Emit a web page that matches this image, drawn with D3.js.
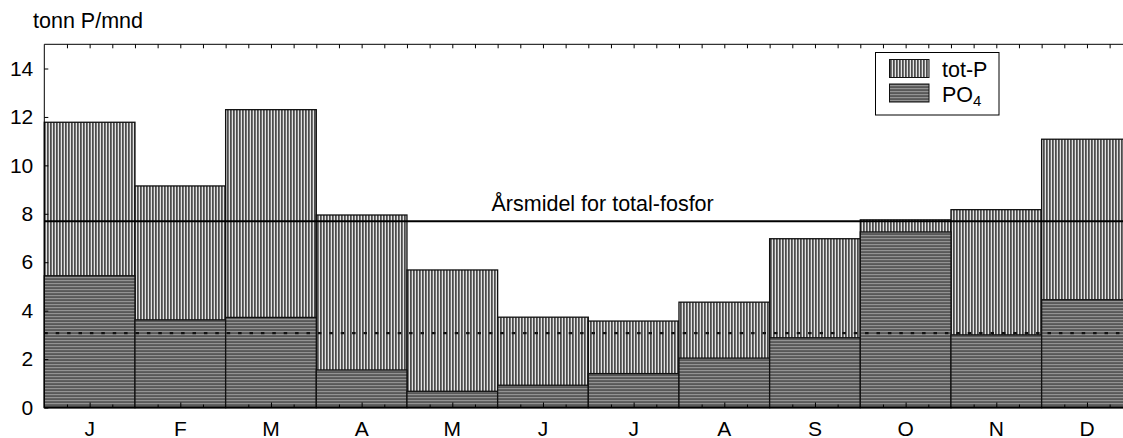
<!DOCTYPE html>
<html>
<head>
<meta charset="utf-8">
<script src="https://cdn.jsdelivr.net/npm/d3@7"></script>
<style>
  html, body { margin: 0; padding: 0; overflow: hidden; background: #fff; }
  svg { display: block; font-family: "Liberation Sans", Arial, sans-serif; }
</style>
</head>
<body>
<svg id="chart" width="1123" height="438"></svg>
<script>
// ---- data ----
const months = ["J", "F", "M", "A", "M", "J", "J", "A", "S", "O", "N", "D"];
const totP = [11.78, 9.15, 12.30, 7.95, 5.68, 3.73, 3.57, 4.35, 6.97, 7.75, 8.17, 11.08];
const po4  = [5.44, 3.62, 3.72, 1.55, 0.67, 0.92, 1.40, 2.04, 2.88, 7.25, 3.00, 4.45];
const meanTotP = 7.69;
const meanPO4 = 3.07;
const yTicks = [0, 2, 4, 6, 8, 10, 12, 14];
const yLabel = "tonn P/mnd";
const meanLabel = "Årsmidel for total-fosfor";

// ---- layout ----
const L = 44.3, R = 1132.3, T = 44.3, B = 407.5;
const svg = d3.select("#chart");

const defs = svg.append("defs");
// vertical hatch for tot-P
const pv = defs.append("pattern").attr("id", "vert").attr("patternUnits", "userSpaceOnUse")
  .attr("width", 3).attr("height", 10).attr("x", L);
pv.append("rect").attr("width", 3).attr("height", 10).attr("fill", "#fff");
pv.append("rect").attr("x", 0).attr("width", 1.35).attr("height", 10).attr("fill", "#000");
// horizontal hatch for PO4
const ph = defs.append("pattern").attr("id", "horiz").attr("patternUnits", "userSpaceOnUse")
  .attr("width", 10).attr("height", 3).attr("y", B);
ph.append("rect").attr("width", 10).attr("height", 3).attr("fill", "#9c9c9c");
ph.append("rect").attr("y", 0).attr("width", 10).attr("height", 1.15).attr("fill", "#262626");

const idx = d3.range(months.length);
const x = d3.scaleBand().domain(idx).range([L, R]).padding(0);
const xc = d3.scaleLinear().domain([0, months.length]).range([L, R]);
const y = d3.scaleLinear().domain([0, 15]).range([B, T]);

// bars: tot-P
svg.append("g").selectAll("rect").data(idx).join("rect")
  .attr("x", i => x(i)).attr("width", x.bandwidth())
  .attr("y", i => y(totP[i])).attr("height", i => y(0) - y(totP[i]))
  .attr("fill", "url(#vert)").attr("stroke", "#111").attr("stroke-width", 1.3);
// bars: PO4
svg.append("g").selectAll("rect").data(idx).join("rect")
  .attr("x", i => x(i)).attr("width", x.bandwidth())
  .attr("y", i => y(po4[i])).attr("height", i => y(0) - y(po4[i]))
  .attr("fill", "url(#horiz)").attr("stroke", "#111").attr("stroke-width", 1.3);

// mean lines
svg.append("line").attr("x1", L).attr("x2", R).attr("y1", y(meanTotP)).attr("y2", y(meanTotP))
  .attr("stroke", "#000").attr("stroke-width", 2);
svg.append("line").attr("x1", L).attr("x2", R).attr("y1", y(meanPO4)).attr("y2", y(meanPO4))
  .attr("stroke", "#111").attr("stroke-width", 2.2).attr("stroke-dasharray", "3.5 7.9");

svg.append("text").attr("x", 491.5).attr("y", y(meanTotP) - 10)
  .attr("font-size", 21.5).attr("fill", "#000").text(meanLabel);

// frame
svg.append("line").attr("x1", L).attr("x2", R).attr("y1", T).attr("y2", T).attr("stroke", "#000").attr("stroke-width", 1);
svg.append("line").attr("x1", L).attr("x2", L).attr("y1", T).attr("y2", B).attr("stroke", "#000").attr("stroke-width", 1);
svg.append("line").attr("x1", L).attr("x2", R).attr("y1", B).attr("y2", B).attr("stroke", "#000").attr("stroke-width", 2);

// y axis (ticks inward)
const yAxis = d3.axisLeft(y).tickValues(yTicks).tickSize(-4).tickPadding(11).tickFormat(d3.format("d"));
const gy = svg.append("g").attr("transform", `translate(${L},0)`).call(yAxis);
gy.select(".domain").remove();
gy.selectAll("text").attr("font-size", 21).attr("fill", "#000").attr("font-family", "Liberation Sans, Arial, sans-serif");
gy.selectAll("line").attr("stroke", "#000");

// bottom minor/major ticks (inward)
const qTicks = d3.range(0, months.length * 4 + 1).map(k => k / 4).filter(v => v % 1 !== 0);
const gb = svg.append("g").attr("transform", `translate(0,${B})`)
  .call(d3.axisBottom(xc).tickValues(qTicks).tickSize(-3).tickFormat(""));
gb.select(".domain").remove();
gb.selectAll(".tick line").attr("stroke", "#000")
  .attr("y2", d => (d % 1 === 0.5) ? -5 : -3);

// top ticks (inward)
const allQ = d3.range(1, months.length * 4).map(k => k / 4);
const gt = svg.append("g").attr("transform", `translate(0,${T})`)
  .call(d3.axisTop(xc).tickValues(allQ).tickSize(-4).tickFormat(""));
gt.select(".domain").remove();
gt.selectAll(".tick line").attr("stroke", "#000");

// month labels
svg.append("g").selectAll("text").data(idx).join("text")
  .attr("x", i => x(i) + x.bandwidth() / 2).attr("y", 436)
  .attr("text-anchor", "middle").attr("font-size", 21).attr("fill", "#000")
  .text(i => months[i]);

// y axis title
svg.append("text").attr("x", 33).attr("y", 28).attr("font-size", 21.5).attr("fill", "#000").text(yLabel);

// legend
const lg = svg.append("g");
lg.append("rect").attr("x", 875.5).attr("y", 52.5).attr("width", 123.5).attr("height", 62.5)
  .attr("fill", "#fff").attr("stroke", "#000").attr("stroke-width", 1);
lg.append("rect").attr("x", 889.5).attr("y", 59.5).attr("width", 39.5).attr("height", 18)
  .attr("fill", "url(#vert)").attr("stroke", "#111").attr("stroke-width", 1);
lg.append("rect").attr("x", 889.5).attr("y", 84).attr("width", 39.5).attr("height", 18)
  .attr("fill", "url(#horiz)").attr("stroke", "#111").attr("stroke-width", 1);
lg.append("text").attr("x", 942).attr("y", 76.5).attr("font-size", 21.5).attr("fill", "#000").text("tot-P");
const t2 = lg.append("text").attr("x", 942).attr("y", 101.5).attr("font-size", 21.5).attr("fill", "#000");
t2.append("tspan").text("PO");
t2.append("tspan").attr("font-size", 15).attr("dy", 4).text("4");
</script>
</body>
</html>
